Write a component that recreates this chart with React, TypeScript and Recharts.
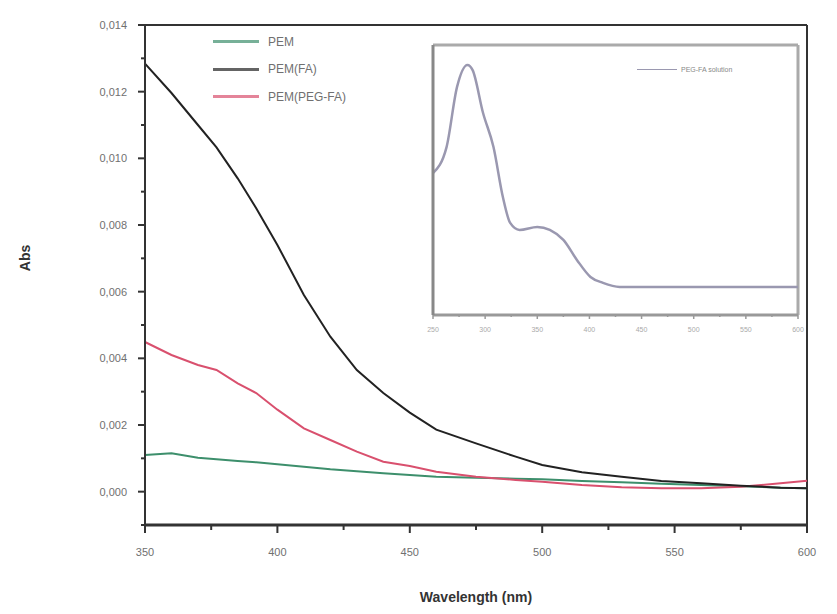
import React from 'react';
import { LineChart, Line, XAxis, YAxis, ReferenceLine } from 'recharts';

const wavelengths = [350, 360, 370, 377, 385, 392, 400, 410, 420, 430, 440, 450, 460, 475, 490, 500, 515, 530, 545, 560, 575, 590, 600];
const pem = [0.0011, 0.00115, 0.00102, 0.00097, 0.00092, 0.00088, 0.00082, 0.00075, 0.00067, 0.00061, 0.00055, 0.0005, 0.00045, 0.00042, 0.00039, 0.00037, 0.00032, 0.00028, 0.00024, 0.0002, 0.00016, 0.00012, 0.0001];
const pemFA = [0.01284, 0.01196, 0.0110, 0.01033, 0.0094, 0.0085, 0.0074, 0.0059, 0.00465, 0.00365, 0.00296, 0.00237, 0.00186, 0.00145, 0.00105, 0.0008, 0.00058, 0.00045, 0.00032, 0.00025, 0.00018, 0.00012, 0.0001];
const pemPegFA = [0.00449, 0.0041, 0.0038, 0.00365, 0.00325, 0.00296, 0.00246, 0.0019, 0.00155, 0.0012, 0.0009, 0.00077, 0.0006, 0.00045, 0.00035, 0.0003, 0.0002, 0.00013, 0.0001, 0.0001, 0.00015, 0.00025, 0.00033];

const seriesNames = ['PEM', 'PEM(FA)', 'PEM(PEG-FA)'];
const seriesColors = ['#3d8f6c', '#222222', '#d9506e'];

const xTicks = [350, 375, 400, 425, 450, 475, 500, 525, 550, 575, 600];
const yTicks = [-0.001, 0, 0.001, 0.002, 0.003, 0.004, 0.005, 0.006, 0.007, 0.008, 0.009, 0.01, 0.011, 0.012, 0.013, 0.014];

const insetWavelengths = [250, 263, 273, 283, 288, 298, 308, 317, 324, 333, 350, 362, 375, 388, 401, 413, 429, 450, 500, 550, 600];
const insetAbs = [0.526, 0.622, 0.844, 0.926, 0.907, 0.748, 0.622, 0.437, 0.341, 0.315, 0.326, 0.315, 0.278, 0.204, 0.141, 0.119, 0.104, 0.104, 0.104, 0.104, 0.104];
const insetTicks = [250, 275, 300, 325, 350, 375, 400, 425, 450, 475, 500, 525, 550, 575, 600];
const insetName = 'PEG-FA solution';

const mainData = wavelengths.map((w, i) => ({ w, pem: pem[i], pemFA: pemFA[i], pemPegFA: pemPegFA[i] }));
const insetData = insetWavelengths.map((w, i) => ({ w, a: insetAbs[i] }));

const PLOT_LEFT = 145;
const FONT = '"Liberation Sans", Arial, sans-serif';

const XTick = (props: any) => {
  const { x, y, payload } = props;
  const v = payload.value;
  const major = v % 50 === 0;
  return (
    <g>
      <line x1={x} x2={x} y1={y - 3} y2={y + (major ? 5 : 2)} stroke="#333" strokeWidth={2} />
      {major && (
        <text x={x} y={y + 28} textAnchor="middle" fontSize={11} fill="#707070" fontFamily={FONT}>
          {v}
        </text>
      )}
    </g>
  );
};

const YTick = (props: any) => {
  const { y, payload } = props;
  const v = payload.value;
  const k = Math.round(v * 1000);
  const major = k >= 0 && k % 2 === 0;
  return (
    <g>
      <line x1={PLOT_LEFT - (major ? 7 : 4)} x2={PLOT_LEFT} y1={y} y2={y} stroke="#333" strokeWidth={2} />
      {major && (
        <text x={127} y={y + 4} textAnchor="end" fontSize={11} fill="#707070" fontFamily={FONT}>
          {v.toFixed(3).replace('.', ',')}
        </text>
      )}
    </g>
  );
};

const InsetTick = (props: any) => {
  const { x, y, payload } = props;
  const v = payload.value;
  const major = v % 50 === 0;
  return (
    <g>
      <line x1={x} x2={x} y1={y - 2} y2={y - 2 + (major ? 4 : 2)} stroke="#999" strokeWidth={1.5} />
      {major && (
        <text x={x} y={y + 15} textAnchor="middle" fontSize={7} fill="#aaa" fontFamily={FONT}>
          {v}
        </text>
      )}
    </g>
  );
};

export default function App() {
  return (
    <div style={{ position: 'absolute', left: 0, top: 0, width: 837, height: 614, background: '#fff' }}>
      <div style={{ position: 'absolute', left: 0, top: 0 }}>
        <LineChart width={837} height={614} data={insetData} margin={{ top: 45, right: 39, bottom: 0, left: 0 }}>
          <XAxis
            dataKey="w"
            type="number"
            domain={[250, 600]}
            ticks={insetTicks}
            interval={0}
            height={299}
            tick={<InsetTick />}
            tickLine={false}
            tickSize={2}
            tickMargin={0}
            axisLine={{ stroke: '#999', strokeWidth: 3 }}
          />
          <YAxis type="number" domain={[0, 1]} width={433} tick={false} tickLine={false} axisLine={{ stroke: '#888', strokeWidth: 3 }} />
          <ReferenceLine y={1} stroke="#aaa" strokeWidth={3} />
          <ReferenceLine x={600} stroke="#aaa" strokeWidth={3} />
          <Line type="monotone" dataKey="a" name={insetName} stroke="#9a98b0" strokeWidth={2.5} dot={false} isAnimationActive={false} />
        </LineChart>
      </div>
      <div style={{ position: 'absolute', left: 0, top: 0 }}>
        <LineChart width={837} height={614} data={mainData} margin={{ top: 25, right: 30, bottom: 0, left: 0 }}>
          <XAxis
            dataKey="w"
            type="number"
            domain={[350, 600]}
            ticks={xTicks}
            interval={0}
            height={89}
            tick={<XTick />}
            tickLine={false}
            tickSize={3}
            tickMargin={0}
            axisLine={{ stroke: '#333', strokeWidth: 3 }}
          />
          <YAxis
            type="number"
            domain={[-0.001, 0.014]}
            ticks={yTicks}
            interval={0}
            width={145}
            tick={<YTick />}
            tickLine={false}
            axisLine={{ stroke: '#333', strokeWidth: 2 }}
          />
          <ReferenceLine y={0.014} stroke="#333" strokeWidth={2} />
          <ReferenceLine x={600} stroke="#333" strokeWidth={2} />
          <Line type="linear" dataKey="pem" name="PEM" stroke={seriesColors[0]} strokeWidth={2} dot={false} isAnimationActive={false} />
          <Line type="linear" dataKey="pemPegFA" name="PEM(PEG-FA)" stroke={seriesColors[2]} strokeWidth={2} dot={false} isAnimationActive={false} />
          <Line type="linear" dataKey="pemFA" name="PEM(FA)" stroke={seriesColors[1]} strokeWidth={2} dot={false} isAnimationActive={false} />
        </LineChart>
      </div>
      <div style={{ position: 'absolute', left: 213, top: 28, fontFamily: FONT, fontSize: 12, color: '#707070' }}>
        {seriesNames.map((n, i) => (
          <div key={n} style={{ display: 'flex', alignItems: 'center', height: 27.5 }}>
            <div style={{ width: 46, height: 3, background: seriesColors[i], opacity: 0.7, marginRight: 9 }} />
            <span>{n}</span>
          </div>
        ))}
      </div>
      <div style={{ position: 'absolute', left: 637, top: 66, fontFamily: FONT, fontSize: 7, color: '#888', display: 'flex', alignItems: 'center' }}>
        <div style={{ width: 40, height: 1.5, background: '#9a98b0', marginRight: 4 }} />
        <span>{insetName}</span>
      </div>
      <svg width={837} height={614} style={{ position: 'absolute', left: 0, top: 0, pointerEvents: 'none' }}>
        <text x={30} y={258} transform="rotate(-90 30 258)" textAnchor="middle" fontSize={14} fontWeight="bold" fill="#333" fontFamily={FONT}>
          Abs
        </text>
        <text x={476} y={602} textAnchor="middle" fontSize={14} fontWeight="bold" fill="#333" fontFamily={FONT}>
          Wavelength (nm)
        </text>
      </svg>
    </div>
  );
}
